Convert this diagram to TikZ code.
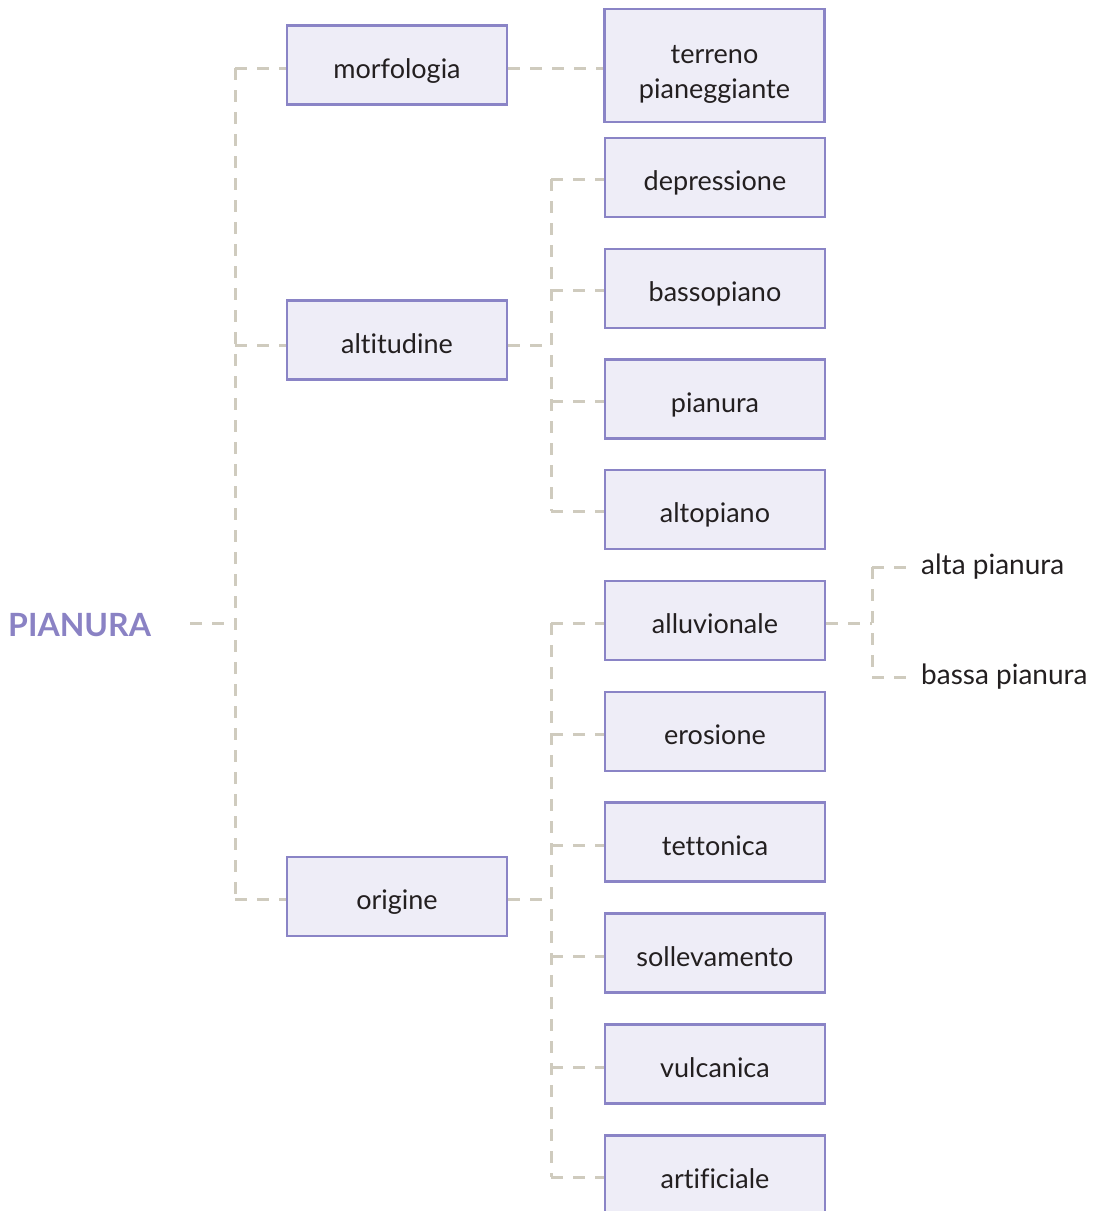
\documentclass[tikz,border=0pt]{standalone}
\usepackage{fontspec}
\setmainfont{Lato}[Ligatures=NoCommon]
\definecolor{boxfill}{HTML}{EEEDF7}
\definecolor{boxline}{HTML}{8A84C6}
\definecolor{dashc}{HTML}{CFCBBE}
\definecolor{txt}{HTML}{231F20}
\definecolor{titlec}{HTML}{8A82C4}
\begin{document}
\begin{tikzpicture}[x=1pt,y=-1pt,
  boxbase/.style={draw=boxline, fill=boxfill, line width=2.6pt, minimum width=220pt, minimum height=79pt, inner sep=0pt, font=\fontsize{27}{35}\selectfont, text=txt, align=center},
  box/.style={boxbase, text height=26pt, text depth=0pt},
  conn/.style={draw=dashc, line width=3pt, dash pattern=on 12pt off 10pt},
  leaf/.style={anchor=west, inner sep=0pt, font=\fontsize{28}{32}\selectfont, text=txt}]
\useasboundingbox (0,0) rectangle (1095,1211);
% title
\node[font=\fontsize{32}{36}\selectfont\bfseries, text=titlec, anchor=west, inner sep=0pt] (pian) at (8,625) {PIANURA};
% level 1
\node[box] (morf) at (397,65) {morfologia};
\node[box] (alt) at (397,340) {altitudine};
\node[box] (orig) at (397,896.5) {origine};
% level 2
\node[boxbase, minimum height=113pt] (terr) at (714.5,65.5) {\rule{0pt}{36pt}terreno\\pianeggiante};
\node[box] (depr) at (715,177.5) {depressione};
\node[box] (bass) at (715,288.5) {bassopiano};
\node[box] (pian2) at (715,399) {pianura};
\node[box] (alto) at (715,509.5) {altopiano};
\node[box] (allu) at (715,620.5) {alluvionale};
\node[box] (eros) at (715,731.5) {erosione};
\node[box] (tett) at (715,842) {tettonica};
\node[box] (soll) at (715,953) {sollevamento};
\node[box] (vulc) at (715,1064) {vulcanica};
\node[box] (arti) at (715,1175) {artificiale};
% level 3
\node[leaf] (altap) at (921,567) {alta pianura};
\node[leaf] (bassap) at (921,677) {bassa pianura};
% junctions
\coordinate (P0) at (190,623);
\coordinate (A0) at (235,623);
\coordinate (A1) at (235,68);
\coordinate (A2) at (235,345);
\coordinate (A3) at (235,899);
\coordinate (B0) at (551,345);
\coordinate (B1) at (551,179);
\coordinate (B2) at (551,290);
\coordinate (B3) at (551,401);
\coordinate (B4) at (551,511);
\coordinate (C0) at (551,899);
\coordinate (C1) at (551,623);
\coordinate (C2) at (551,734);
\coordinate (C3) at (551,845);
\coordinate (C4) at (551,956);
\coordinate (C5) at (551,1067);
\coordinate (C6) at (551,1177);
\coordinate (D0) at (872,623);
\coordinate (D1) at (872,567);
\coordinate (D2) at (872,677);
% trunk
\draw[conn] (P0) -- (A0);
\draw[conn] (A1) -- (A3);
\draw[conn] (A1) -- (A1 -| morf.west);
\draw[conn] (A2) -- (A2 -| alt.west);
\draw[conn] (A3) -- (A3 -| orig.west);
% morfologia
\draw[conn] (morf.east |- A1) -- (terr.west |- A1);
% altitudine
\draw[conn] (alt.east |- B0) -- (B0);
\draw[conn] (B1) -- (B4);
\draw[conn] (B1) -- (B1 -| depr.west);
\draw[conn] (B2) -- (B2 -| bass.west);
\draw[conn] (B3) -- (B3 -| pian2.west);
\draw[conn] (B4) -- (B4 -| alto.west);
% origine
\draw[conn] (orig.east |- C0) -- (C0);
\draw[conn] (C1) -- (C6);
\draw[conn] (C1) -- (C1 -| allu.west);
\draw[conn] (C2) -- (C2 -| eros.west);
\draw[conn] (C3) -- (C3 -| tett.west);
\draw[conn] (C4) -- (C4 -| soll.west);
\draw[conn] (C5) -- (C5 -| vulc.west);
\draw[conn] (C6) -- (C6 -| arti.west);
% alluvionale
\draw[conn] (allu.east |- D0) -- (D0);
\draw[conn] (D1) -- (D2);
\draw[conn] (D1) -- ([xshift=-11pt]altap.west |- D1);
\draw[conn] (D2) -- ([xshift=-11pt]bassap.west |- D2);
\end{tikzpicture}
\end{document}
